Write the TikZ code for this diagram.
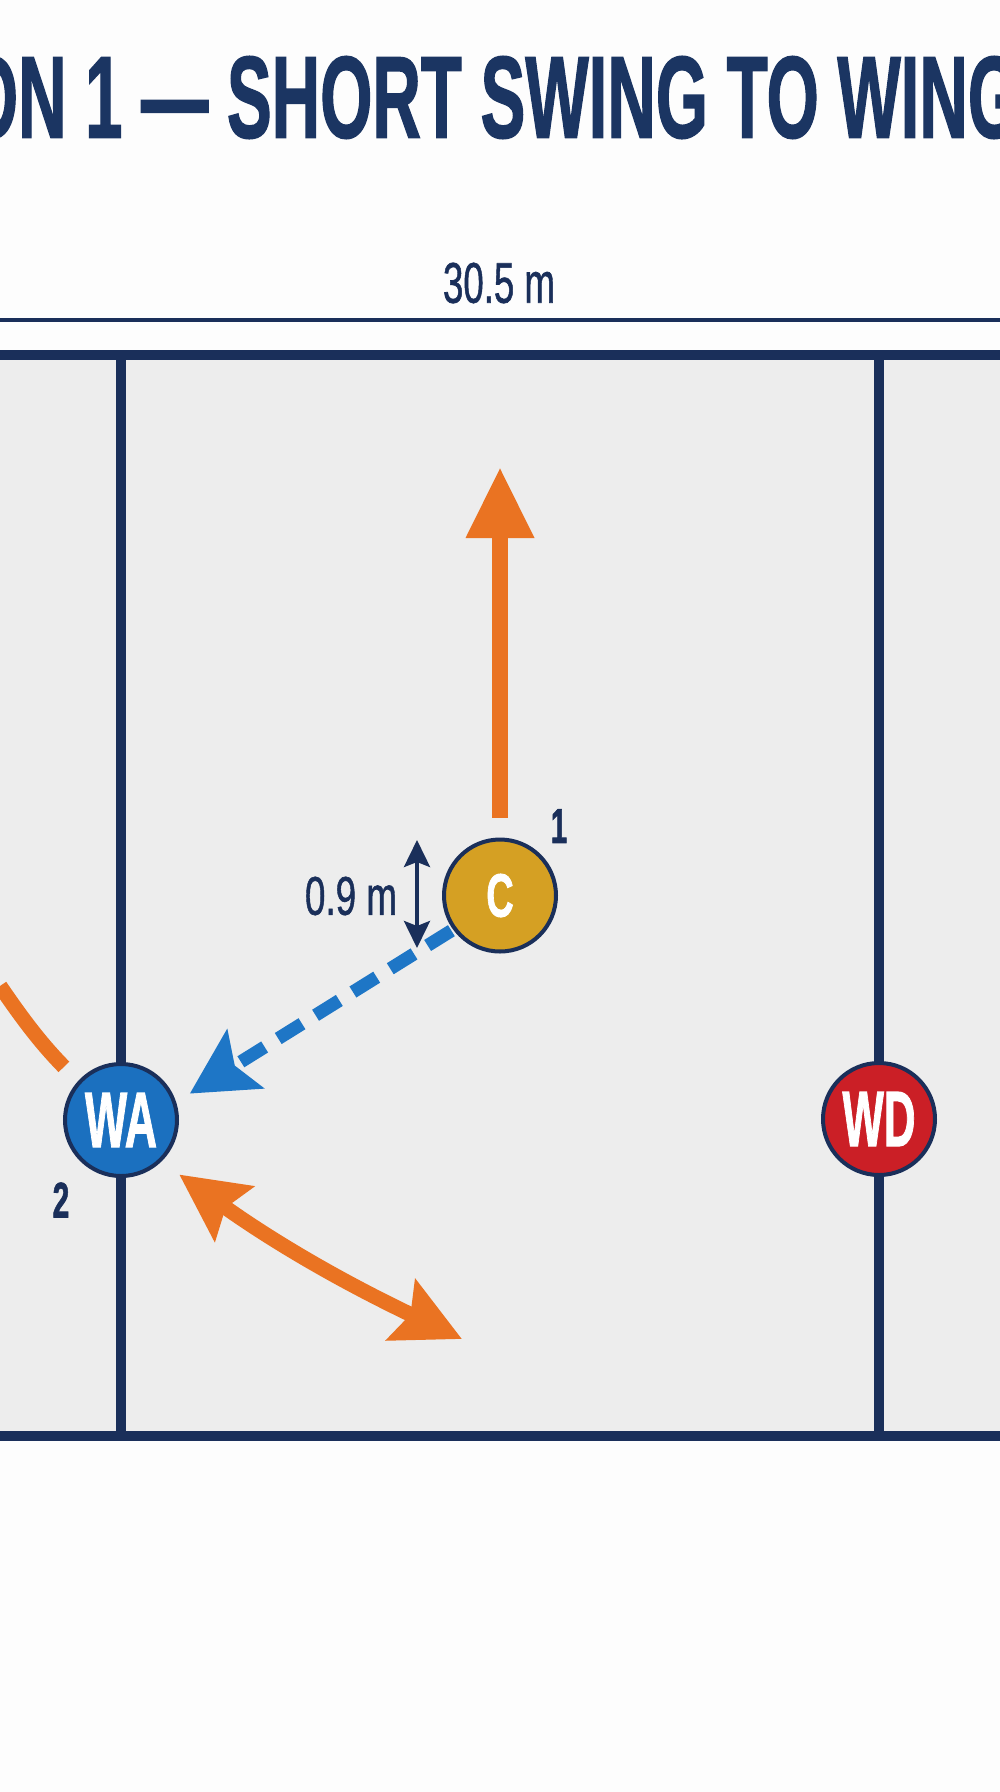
\documentclass[tikz,border=0pt]{standalone}
\usepackage{fontspec}
\setmainfont{Liberation Sans}
\newfontfamily\heavyfont{Liberation Sans Bold}[FakeBold=1.6]
\newfontfamily\medfont{Liberation Sans}[FakeBold=1.2]
\usepackage{graphicx}
\usetikzlibrary{arrows.meta}
\definecolor{navy}{HTML}{1A2F5A}
\definecolor{titlenavy}{HTML}{1B3562}
\definecolor{runorange}{HTML}{EA7322}
\definecolor{passblue}{HTML}{1E76C6}
\definecolor{wablue}{HTML}{1B70BF}
\definecolor{cgold}{HTML}{D5A023}
\definecolor{wdred}{HTML}{CB1F26}
\definecolor{courtgrey}{HTML}{EDEDED}
\definecolor{pagewhite}{HTML}{FDFDFD}
\tikzset{
  player/.style={circle, draw=navy, line width=4pt, minimum size=112pt, inner sep=0pt, text=white},
  courtline/.style={navy, line width=10pt},
  runline/.style={runorange, line width=16pt},
  passline/.style={passblue, line width=13pt, dash pattern=on 28pt off 16pt},
  dimline/.style={navy, line width=4pt},
  lbl/.style={inner sep=0pt, text=navy},
}
\begin{document}
\begin{tikzpicture}[x=1pt,y=-1pt]
\useasboundingbox (0,0) rectangle (1000,1792);
\fill[pagewhite] (0,0) rectangle (1000,1792);
% court surface
\fill[courtgrey] (0,355) rectangle (1000,1436);
% title (cropped at both edges)
\begin{scope}
\clip (0,0) rectangle (1000,1792);
\node[inner sep=0pt, text=titlenavy] (title) at (493,97.5)
  {\resizebox{1054pt}{81pt}{\heavyfont ON 1 — SHORT SWING TO WING}};
\end{scope}
% dimension
\coordinate (dimL) at (0,320);
\coordinate (dimR) at (1000,320);
\draw[navy, line width=4pt] (dimL) -- (dimR);
\node[lbl] (width) at (499,283) {\resizebox{112pt}{40pt}{\medfont 30.5 m}};
% court lines
\draw[courtline] (0,355) -- (1000,355);
\draw[courtline] (0,1436) -- (1000,1436);
\draw[courtline] (121,350) -- (121,1441);
\draw[courtline] (879,350) -- (879,1441);
% players
\node[player, fill=cgold] (C) at (500,895.5)
  {\scalebox{0.62}[1]{\fontsize{61}{61}\selectfont\heavyfont C}};
\node[player, fill=wablue] (WA) at (121,1120)
  {\resizebox{72pt}{54pt}{\heavyfont WA}};
\node[player, fill=wdred] (WD) at (879,1119)
  {\resizebox{73pt}{54pt}{\heavyfont WD}};
% numbers
\node[lbl] (n1) at (559,826) {\scalebox{0.6}[1]{\fontsize{49}{49}\selectfont\heavyfont 1}};
\node[lbl] (n2) at (61,1200) {\scalebox{0.6}[1]{\fontsize{50}{50}\selectfont\heavyfont 2}};
% C run upward
\coordinate (upTip) at (500,467);
\draw[runline, shorten <=20pt, -{Triangle[length=71pt,width=64pt]}] (C) -- (upTip);
% 0.9 m marker
\coordinate (gapT) at (417,840);
\coordinate (gapB) at (417,948);
\draw[dimline, {Stealth[length=27pt,width=26pt,inset=5pt]}-{Stealth[length=27pt,width=26pt,inset=5pt]}] (gapT) -- (gapB);
\node[lbl] (gaplbl) at (351,896) {\resizebox{92pt}{38pt}{\medfont 0.9 m}};
% pass C -> WA
\draw[passline, shorten <=2pt, shorten >=16pt, -{Stealth[length=65pt,width=68pt,inset=12pt]}] (C.216) -- (WA.18);
% incoming run to WA from left
\coordinate (leftIn) at (0,986);
\draw[runorange, line width=15pt, shorten >=20pt] (leftIn) to[bend right=5] (WA.138);
% WA swing double arrow
\coordinate (swingEnd) at (462,1339);
\draw[runorange, line width=15pt, shorten <=22pt,
  {Stealth[length=67pt,width=66pt,inset=10pt]}-{Stealth[length=67pt,width=66pt,inset=10pt]}]
  (WA.314) to[bend right=5] (swingEnd);
\end{tikzpicture}
\end{document}
